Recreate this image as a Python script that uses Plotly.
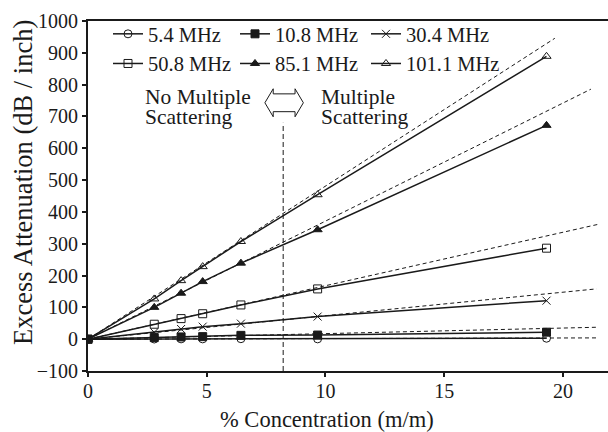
import plotly.graph_objects as go

# Concentration (% m/m) at which attenuation was measured
concentration = [0, 2.79, 3.92, 4.83, 6.44, 9.67, 19.31]

# Excess attenuation (dB / inch) per frequency
att_5_4 = [0, 0.5, 1, 1, 1.5, 1, 3]
att_10_8 = [0, 5, 7, 8, 12, 13, 22]
att_30_4 = [0, 21.6, 32, 39.4, 48.8, 71, 121]
att_50_8 = [0, 47, 64.7, 80, 107.6, 158, 286]
att_85_1 = [0, 100, 144.5, 181, 239, 344, 672]
att_101_1 = [0, 126.5, 184, 228, 307, 454, 889]

series_names = ["5.4 MHz", "10.8 MHz", "30.4 MHz", "50.8 MHz", "85.1 MHz", "101.1 MHz"]
series_values = [att_5_4, att_10_8, att_30_4, att_50_8, att_85_1, att_101_1]
series_symbols = ["circle-open", "square", "x-thin-open", "square-open",
                  "triangle-up", "triangle-up-open"]
# legend column for each series (three columns, two rows)
series_legend = ["legend", "legend2", "legend3", "legend", "legend2", "legend3"]

# Linear (single-scattering) trend lines: slope through origin and end point
trend_slopes = [0.19, 1.75, 7.38, 16.8, 37.1, 48.1]
trend_end_x = [21.45, 21.45, 21.42, 21.49, 21.18, 19.66]

# Onset of multiple scattering
threshold_conc = 8.22

FONT = "Liberation Serif"
BLACK = "#1a1a1a"

fig = go.Figure()

for name, vals, tslope, tend in zip(series_names, series_values, trend_slopes, trend_end_x):
    fig.add_trace(go.Scatter(
        x=[0, tend], y=[0, tslope * tend], mode="lines",
        line=dict(color=BLACK, width=1, dash="4px,3px"),
        showlegend=False, hoverinfo="skip",
    ))

for name, vals, sym, lg in zip(series_names, series_values, series_symbols, series_legend):
    fig.add_trace(go.Scatter(
        x=concentration, y=vals, mode="lines+markers", name=name,
        line=dict(color=BLACK, width=1.5),
        marker=dict(symbol=sym, size=8, color=BLACK,
                    line=dict(color=BLACK, width=1)),
        legend=lg,
    ))

# Vertical threshold line
fig.add_shape(type="line", x0=threshold_conc, x1=threshold_conc, y0=-100, y1=680,
              xref="x", yref="y", line=dict(color=BLACK, width=1, dash="5px,3px"))

# Double-headed outline arrow above the threshold line
ax_l, ax_sl, ax_sr, ax_r = 7.45, 7.80, 8.72, 9.07
ay_top, ay_st, ay_mid, ay_sb, ay_bot = 787, 771, 743, 715, 699
arrow_path = (
    f"M {ax_l},{ay_mid} L {ax_sl},{ay_top} L {ax_sl},{ay_st} L {ax_sr},{ay_st} "
    f"L {ax_sr},{ay_top} L {ax_r},{ay_mid} L {ax_sr},{ay_bot} L {ax_sr},{ay_sb} "
    f"L {ax_sl},{ay_sb} L {ax_sl},{ay_bot} Z"
)
fig.add_shape(type="path", path=arrow_path, xref="x", yref="y",
              line=dict(color=BLACK, width=1), fillcolor="white")

# Regime labels, one line per annotation for tight line spacing
regime_lines = [
    (2.36, 762, "No Multiple"), (2.36, 698, "Scattering"),
    (9.75, 762, "Multiple"), (9.75, 698, "Scattering"),
]
for lx, ly, txt in regime_lines:
    fig.add_annotation(x=lx, y=ly, xref="x", yref="y", text=txt,
                       showarrow=False, xanchor="left", yanchor="middle", borderpad=0,
                       font=dict(family=FONT, size=21.5, color=BLACK))

# Axis titles
fig.add_annotation(x=(327 - 88) / 520, y=(371 - 419) / 350, xref="paper", yref="paper",
                   text="% Concentration (m/m)", showarrow=False,
                   xanchor="center", yanchor="middle",
                   font=dict(family=FONT, size=22.5, color=BLACK))
fig.add_annotation(x=(23 - 88) / 520, y=(371 - 183) / 350, xref="paper", yref="paper",
                   text="Excess Attenuation (dB / inch)", textangle=-90, showarrow=False,
                   xanchor="center", yanchor="middle",
                   font=dict(family=FONT, size=26.5, color=BLACK))

legend_common = dict(
    orientation="v", xanchor="left", yanchor="top",
    font=dict(family=FONT, size=20.5, color=BLACK),
    bgcolor="rgba(0,0,0,0)", itemwidth=30, tracegroupgap=0, itemclick=False,
)
legend_top = (371 - 14) / 350

fig.update_layout(
    width=608, height=432,
    margin=dict(l=88, r=0, t=21, b=61),
    plot_bgcolor="white", paper_bgcolor="white",
    font=dict(family=FONT, size=20, color=BLACK),
    legend=dict(x=(108 - 88) / 520, y=legend_top, **legend_common),
    legend2=dict(x=(235 - 88) / 520, y=legend_top, **legend_common),
    legend3=dict(x=(366 - 88) / 520, y=legend_top, **legend_common),
    xaxis=dict(range=[0, 21.9], tickvals=[0, 5, 10, 15, 20], showgrid=False,
               zeroline=False, showline=True, linecolor=BLACK, linewidth=2, mirror=True,
               ticks="outside", ticklen=4, tickcolor=BLACK, tickwidth=1.5,
               ticklabelstandoff=-3,
               tickfont=dict(family=FONT, size=20, color=BLACK)),
    yaxis=dict(range=[-100, 1000], tickvals=list(range(-100, 1001, 100)), showgrid=False,
               zeroline=False, showline=True, linecolor=BLACK, linewidth=2,
               ticks="outside", ticklen=4, tickcolor=BLACK, tickwidth=1.5,
               tickfont=dict(family=FONT, size=20, color=BLACK)),
    showlegend=True,
)

fig.write_html("out.html")
